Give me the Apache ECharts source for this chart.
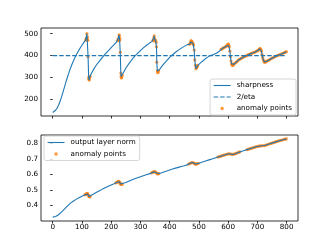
<!DOCTYPE html>
<html><head><meta charset="utf-8">
<script src="https://cdn.jsdelivr.net/npm/echarts@6/dist/echarts.min.js"></script>
<style>html,body{margin:0;padding:0;background:#fff}#c{width:332px;height:249px}</style>
</head><body><div id="c"></div>
<script>
// ---- data ----
const xTicks = [0,100,200,300,400,500,600,700,800];
const sharpYTicks = [200,300,400,500];
const normYTicks = [0.4,0.5,0.6,0.7,0.8];
const etaLevel = 400;
const etaX = [0, 799];

const sharpX = [0,5,10,15,20,25,30,35,40,45,50,55,60,65,70,75,80,85,90,95,100,105,110,113,115,116,117,118,119,120,121,123,124,125,126,128,
130,135,140,145,150,160,170,180,190,200,210,218,222,224,226,227,228,229,230,231,233,234,235,236,238,
240,245,250,260,270,280,290,300,310,320,330,340,343,345,346,347,348,350,352,354,355,356,358,359,360,362,
365,370,380,390,400,410,420,430,440,450,460,468,470,472,473,475,476,478,480,482,484,486,488,490,492,494,496,
500,510,520,530,540,550,560,570,576,580,584,588,592,595,597,599,600,601,602,604,606,608,610,612,614,616,618,620,624,628,632,636,640,644,648,652,656,660,664,668,672,676,680,684,688,692,696,700,703,706,708,710,712,714,716,718,720,722,724,726,728,732,736,740,745,750,755,760,765,770,775,780,785,790,795,799];
const sharpY = [140,143,150,160,173,190,210,232,255,278,300,320,340,357,373,388,402,414,426,437,447,457,466,472,480,470,500,476,485,470,395,300,292,288,298,305,
312,325,337,348,358,375,392,408,422,436,450,462,468,478,470,495,490,470,478,415,320,305,298,300,310,
318,330,342,362,380,396,410,423,435,446,456,465,470,468,480,490,478,472,468,460,440,370,330,325,322,330,
335,345,362,377,392,404,415,425,434,442,450,452,455,462,468,462,465,458,455,448,425,380,355,340,345,350,355,
360,372,383,393,400,405,411,420,428,432,435,438,441,444,447,451,448,452,446,440,420,395,375,362,356,355,358,361,366,370,375,380,383,387,390,393,396,398,400,403,405,408,410,412,414,416,419,422,425,428,431,432,428,420,405,392,382,375,371,370,371,374,377,380,384,388,391,395,398,401,403,406,409,412,415,418];

const sharpAnomX = [113,115,116,117,118,119,120,121,123,124,125,126,128,
222,224,226,227,228,229,230,231,233,234,235,236,238,
343,345,346,347,348,350,352,354,355,356,358,359,360,362,
468,470,472,473,475,476,478,480,482,484,486,488,490,492,494,496,
576,580,584,588,592,595,597,599,600,601,602,604,606,608,610,612,614,616,618,620,624,628,632,636,640,644,648,652,656,660,664,668,672,676,680,684,688,692,696,700,703,706,708,710,712,714,716,718,720,722,724,726,728,732,736,740,745,750,755,760,765,770,775,780,785,790,795,799];
const sharpAnomY = [472,480,470,500,476,485,470,395,300,292,288,298,305,
468,478,470,495,490,470,478,415,320,305,298,300,310,
470,468,480,490,478,472,468,460,440,370,330,325,322,330,
452,455,462,468,462,465,458,455,448,425,380,355,340,345,350,355,
428,432,435,438,441,444,447,451,448,452,446,440,420,395,375,362,356,355,358,361,366,370,375,380,383,387,390,393,396,398,400,403,405,408,410,412,414,416,419,422,425,428,431,432,428,420,405,392,382,375,371,370,371,374,377,380,384,388,391,395,398,401,403,406,409,412,415,418];

const normX = [0,5,10,15,20,25,30,35,40,45,50,55,60,65,70,75,80,85,90,95,100,105,110,113,116,118,120,122,124,126,128,
130,140,150,160,170,180,190,200,210,216,220,223,226,228,230,232,234,236,238,
240,250,260,270,280,290,300,310,320,330,338,342,345,348,351,354,357,360,363,366,
370,380,390,400,410,420,430,440,450,460,465,470,474,478,482,485,488,491,494,498,
505,515,525,535,545,555,565,570,575,580,585,590,595,600,605,610,615,620,625,630,635,640,645,650,655,660,665,670,675,680,685,690,695,700,705,710,715,720,725,730,735,740,745,750,755,760,765,770,775,780,785,790,795,799];
const normY = [0.325,0.326,0.329,0.334,0.340,0.348,0.357,0.367,0.377,0.387,0.396,0.405,0.413,0.420,0.427,0.433,0.439,0.444,0.449,0.454,0.459,0.463,0.468,0.472,0.476,0.478,0.474,0.466,0.458,0.455,0.458,
0.462,0.474,0.485,0.495,0.505,0.514,0.523,0.532,0.540,0.545,0.549,0.553,0.555,0.552,0.545,0.538,0.535,0.536,0.538,
0.540,0.548,0.556,0.564,0.571,0.578,0.585,0.591,0.597,0.603,0.609,0.613,0.616,0.618,0.616,0.610,0.604,0.603,0.605,0.607,
0.609,0.615,0.621,0.628,0.634,0.640,0.645,0.650,0.655,0.661,0.666,0.671,0.674,0.676,0.674,0.669,0.665,0.666,0.668,0.671,
0.675,0.681,0.687,0.693,0.699,0.705,0.711,0.714,0.717,0.720,0.723,0.726,0.729,0.731,0.732,0.730,0.728,0.730,0.733,0.737,0.741,0.744,0.747,0.750,0.753,0.756,0.759,0.762,0.765,0.768,0.771,0.774,0.777,0.779,0.781,0.783,0.784,0.784,0.785,0.788,0.792,0.795,0.798,0.801,0.804,0.807,0.810,0.813,0.816,0.819,0.821,0.824,0.826,0.828];

const normAnomX = [110,113,116,118,120,122,124,126,128,
216,220,223,226,228,230,232,234,236,238,
338,342,345,348,351,354,357,360,363,
465,470,474,478,482,485,488,491,494,498,
565,570,575,580,585,590,595,600,605,610,615,620,625,630,635,640,
665,670,675,680,685,690,695,700,705,710,715,720,725,730,735,740,745,750,755,760,765,770,775,780,785,790,795,799];
const normAnomY = [0.468,0.472,0.476,0.478,0.474,0.466,0.458,0.455,0.458,
0.545,0.549,0.553,0.555,0.552,0.545,0.538,0.535,0.536,0.538,
0.609,0.613,0.616,0.618,0.616,0.610,0.604,0.603,0.605,
0.666,0.671,0.674,0.676,0.674,0.669,0.665,0.666,0.668,0.671,
0.711,0.714,0.717,0.720,0.723,0.726,0.729,0.731,0.732,0.730,0.728,0.730,0.733,0.737,0.741,0.744,
0.759,0.762,0.765,0.768,0.771,0.774,0.777,0.779,0.781,0.783,0.784,0.784,0.785,0.788,0.792,0.795,0.798,0.801,0.804,0.807,0.810,0.813,0.816,0.819,0.821,0.824,0.826,0.828];

// ---- chart ----
const zip = (a, b) => a.map((v, i) => [v, b[i]]);
const BLUE = '#1f77b4', ORANGE = '#ff7f0e';
const FONT = 'DejaVu Sans';
const chart = echarts.init(document.getElementById('c'), null, {renderer: 'canvas'});

function xAxis(idx, showLabels) {
  return {
    type: 'value', gridIndex: idx, min: -40, max: 839,
    axisLine: {show: false},
    axisTick: {show: true, length: 2.5, inside: false, customValues: xTicks, lineStyle: {color: '#000', width: 0.8}},
    axisLabel: {show: showLabels, customValues: xTicks, fontFamily: FONT, fontSize: 7.2, color: '#000', margin: 3},
    splitLine: {show: false}
  };
}
function yAxis(idx, min, max, ticks, fmt) {
  return {
    type: 'value', gridIndex: idx, min: min, max: max,
    axisLine: {show: false},
    axisTick: {show: true, length: 2.5, customValues: ticks, lineStyle: {color: '#000', width: 0.8}},
    axisLabel: {customValues: ticks, fontFamily: FONT, fontSize: 7.2, color: '#000', margin: 3, formatter: fmt},
    splitLine: {show: false}
  };
}
const hideSym = {itemStyle: {opacity: 0}};
const legendCommon = {
  orient: 'vertical', backgroundColor: 'rgba(255,255,255,0.8)', borderColor: '#cccccc', borderWidth: 0.8,
  borderRadius: 2, itemWidth: 17, itemHeight: 3.5, itemGap: 4.5,
  lineStyle: {width: 1.1},
  textStyle: {fontFamily: FONT, fontSize: 7.2, color: '#000', padding: [0,0,0,1]}
};

chart.setOption({
  animation: false,
  grid: [
    {left: 41, top: 28, width: 257, height: 88, show: true, borderColor: '#000', borderWidth: 0.8, backgroundColor: 'transparent'},
    {left: 41, top: 135, width: 257, height: 86, show: true, borderColor: '#000', borderWidth: 0.8, backgroundColor: 'transparent'}
  ],
  xAxis: [xAxis(0, false), xAxis(1, true)],
  yAxis: [yAxis(0, 124, 526, sharpYTicks, v => String(v)), yAxis(1, 0.30, 0.853, normYTicks, v => v.toFixed(1))],
  legend: [
    Object.assign({}, legendCommon, {
      data: [Object.assign({name: 'sharpness'}, hideSym), Object.assign({name: '2/eta'}, hideSym), {name: 'anomaly points', icon: 'circle'}],
      right: 36, top: 79, padding: [3, 4, 3, 3]
    }),
    Object.assign({}, legendCommon, {
      data: [Object.assign({name: 'output layer norm'}, hideSym), {name: 'anomaly points ', icon: 'circle'}],
      left: 44, top: 136, padding: [3, 4, 3, 3],
      formatter: n => n.trim()
    })
  ],
  series: [
    {name: 'sharpness', type: 'line', xAxisIndex: 0, yAxisIndex: 0, data: zip(sharpX, sharpY),
     showSymbol: false, symbol: 'none', lineStyle: {color: BLUE, width: 1.1}, itemStyle: {color: BLUE}},
    {name: '2/eta', type: 'line', xAxisIndex: 0, yAxisIndex: 0, data: etaX.map(x => [x, etaLevel]),
     showSymbol: false, symbol: 'none', lineStyle: {color: BLUE, width: 1.1, type: [4.5, 2]}, itemStyle: {color: BLUE}},
    {name: 'anomaly points', type: 'scatter', xAxisIndex: 0, yAxisIndex: 0, data: zip(sharpAnomX, sharpAnomY),
     symbol: 'circle', symbolSize: 3.2, itemStyle: {color: ORANGE}},
    {name: 'output layer norm', type: 'line', xAxisIndex: 1, yAxisIndex: 1, data: zip(normX, normY),
     showSymbol: false, symbol: 'none', lineStyle: {color: BLUE, width: 1.1}, itemStyle: {color: BLUE}},
    {name: 'anomaly points ', type: 'scatter', xAxisIndex: 1, yAxisIndex: 1, data: zip(normAnomX, normAnomY),
     symbol: 'circle', symbolSize: 3.2, itemStyle: {color: ORANGE}}
  ]
});
</script></body></html>
